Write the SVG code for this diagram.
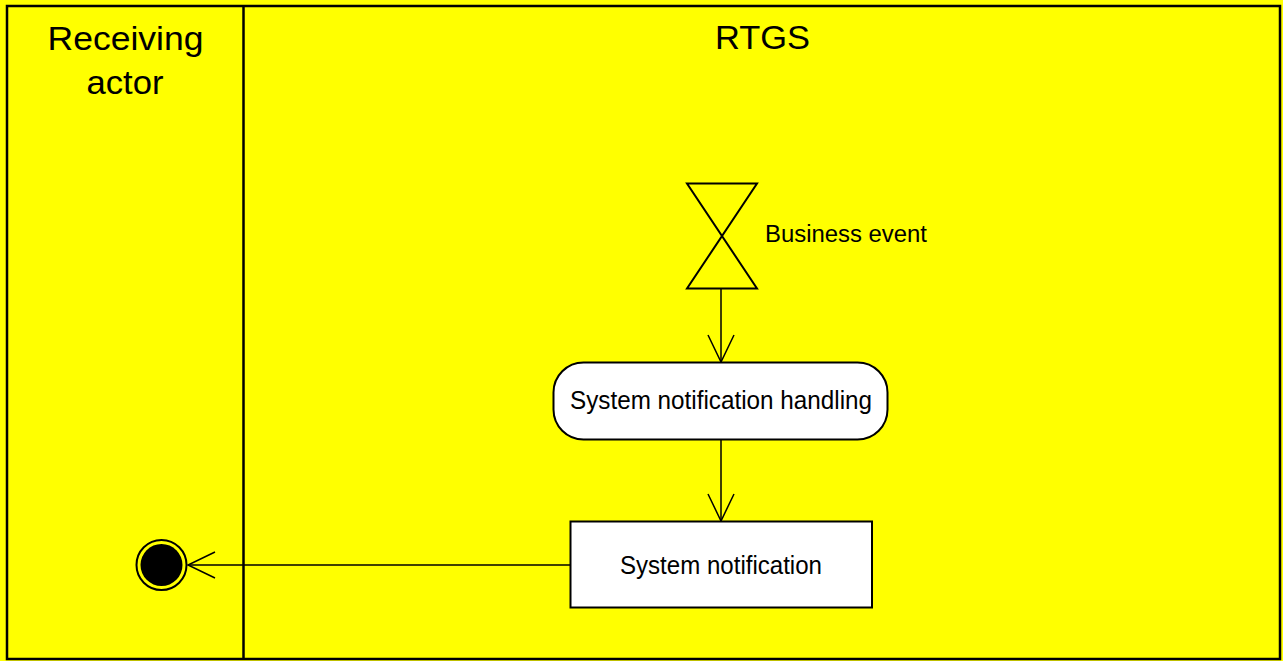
<svg xmlns="http://www.w3.org/2000/svg" width="1283" height="661" viewBox="0 0 1283 661">
<style>
.ln{stroke:#000;stroke-width:1.5;fill:none}
.fr{stroke:#000;stroke-width:2.5;fill:none}
.t{font-family:"Liberation Sans",Arial,sans-serif;fill:#000}
.node{fill:#fff;stroke:#000;stroke-width:2}
</style>
<defs>
<marker id="open" viewBox="0 0 30 30" refX="28" refY="15" markerWidth="30" markerHeight="30" markerUnits="userSpaceOnUse" orient="auto">
<path d="M1,2 L28,15 L1,28" fill="none" stroke="#000" stroke-width="1.5"/>
</marker>
</defs>
<rect x="0" y="0" width="1283" height="661" fill="#ffff00"/>
<g id="lanes">
<rect class="fr" x="7" y="6" width="1273" height="653"/>
<line class="fr" x1="243.5" y1="6" x2="243.5" y2="659"/>
<text class="t" x="125.5" y="50" font-size="34" text-anchor="middle" textLength="156" lengthAdjust="spacingAndGlyphs">Receiving</text>
<text class="t" x="125" y="94" font-size="34" text-anchor="middle" textLength="77" lengthAdjust="spacingAndGlyphs">actor</text>
<text class="t" x="762.5" y="49" font-size="34" text-anchor="middle" textLength="95" lengthAdjust="spacingAndGlyphs">RTGS</text>
</g>
<g id="connectors">
<line class="ln" x1="721" y1="289" x2="721" y2="362" marker-end="url(#open)"/>
<line class="ln" x1="721" y1="440" x2="721" y2="521" marker-end="url(#open)"/>
<line class="ln" x1="570" y1="565" x2="188" y2="565" marker-end="url(#open)"/>
</g>
<g id="business-event">
<path d="M687,183.5 L757,183.5 L687,288.5 L757,288.5 Z" fill="none" stroke="#000" stroke-width="2" stroke-linejoin="miter"/>
<text class="t" x="765" y="242" font-size="23" textLength="162" lengthAdjust="spacingAndGlyphs">Business event</text>
</g>
<g id="system-notification-handling">
<rect class="node" x="553.5" y="362.5" width="334" height="77" rx="30" ry="30"/>
<text class="t" x="721" y="409" font-size="25" text-anchor="middle" textLength="302" lengthAdjust="spacingAndGlyphs">System notification handling</text>
</g>
<g id="system-notification">
<rect class="node" x="570.5" y="521.5" width="301.5" height="86"/>
<text class="t" x="721" y="573.5" font-size="25" text-anchor="middle" textLength="202" lengthAdjust="spacingAndGlyphs">System notification</text>
</g>
<g id="final-node">
<circle cx="161.5" cy="565" r="25" fill="none" stroke="#000" stroke-width="2"/>
<circle cx="161.5" cy="565" r="21" fill="#000"/>
</g>
</svg>
